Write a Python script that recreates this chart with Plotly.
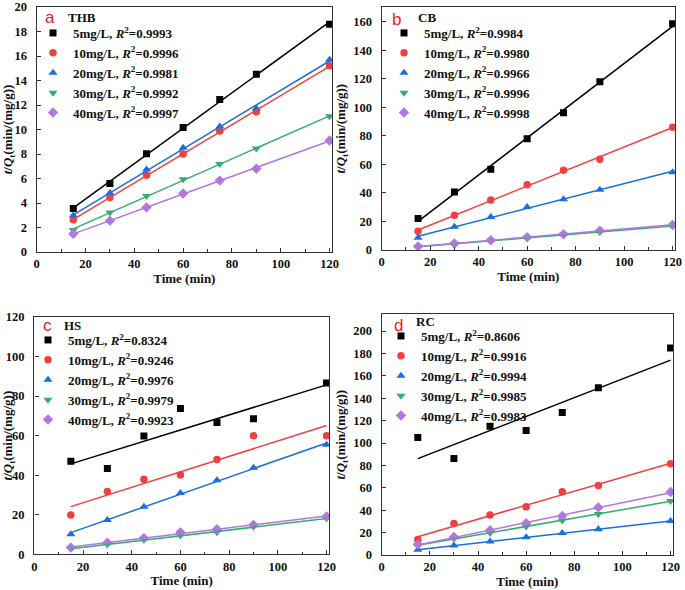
import numpy as np
import plotly.graph_objects as go

time = [15, 30, 45, 60, 75, 90, 120]
conc_labels = ["5mg/L", "10mg/L", "20mg/L", "30mg/L", "40mg/L"]

thb_5 = [3.55, 5.6, 8.02, 10.16, 12.45, 14.52, 18.6]
thb_10 = [2.64, 4.45, 6.27, 7.99, 9.88, 11.44, 15.2]
thb_20 = [2.98, 4.82, 6.73, 8.52, 10.25, 11.72, 15.7]
thb_30 = [1.8, 3.22, 4.57, 5.94, 7.18, 8.44, 11.08]
thb_40 = [1.48, 2.56, 3.64, 4.78, 5.83, 6.8, 9.1]
thb_r2 = ["0.9993", "0.9996", "0.9981", "0.9992", "0.9997"]

cb_5 = [22.1, 40.6, 56.6, 78.0, 96.1, 117.8, 158.4]
cb_10 = [13.1, 24.4, 35.0, 45.7, 55.9, 63.6, 86.0]
cb_20 = [8.5, 16.2, 23.2, 30.2, 35.5, 42.2, 54.5]
cb_30 = [2.2, 4.3, 6.5, 8.5, 10.6, 12.7, 16.7]
cb_40 = [2.4, 4.6, 6.8, 8.9, 11.0, 13.5, 17.6]
cb_r2 = ["0.9984", "0.9980", "0.9966", "0.9996", "0.9998"]

hs_5 = [47.0, 43.4, 59.8, 73.7, 66.6, 68.6, 86.6]
hs_10 = [19.9, 31.8, 37.9, 40.1, 48.0, 60.0, 60.0]
hs_20 = [10.2, 17.4, 24.1, 31.0, 37.4, 43.8, 55.4]
hs_30 = [2.9, 4.9, 7.2, 9.5, 11.2, 13.9, 18.1]
hs_40 = [3.4, 5.9, 8.2, 11.1, 12.7, 14.9, 19.1]
hs_r2 = ["0.8324", "0.9246", "0.9976", "0.9979", "0.9923"]

rc_5 = [105.0, 86.3, 114.9, 111.1, 127.3, 149.5, 185.0]
rc_10 = [13.9, 28.2, 35.7, 43.0, 56.4, 62.0, 81.6]
rc_20 = [4.8, 8.4, 12.0, 15.8, 19.7, 22.9, 30.3]
rc_30 = [8.7, 14.6, 19.6, 25.4, 30.9, 36.6, 48.3]
rc_40 = [9.3, 16.1, 22.2, 28.3, 34.8, 42.5, 56.3]
rc_r2 = ["0.8606", "0.9916", "0.9994", "0.9985", "0.9983"]

panels = [
    ("a", "THB", [thb_5, thb_10, thb_20, thb_30, thb_40], thb_r2, 20, 2),
    ("b", "CB", [cb_5, cb_10, cb_20, cb_30, cb_40], cb_r2, 170, 20),
    ("c", "HS", [hs_5, hs_10, hs_20, hs_30, hs_40], hs_r2, 120, 20),
    ("d", "RC", [rc_5, rc_10, rc_20, rc_30, rc_40], rc_r2, 215, 20),
]

colors = ["#000000", "#F14040", "#1A6FDF", "#37AD6B", "#B177DE"]
symbols = ["square", "circle", "triangle-up", "triangle-down", "diamond"]
sizes = [7, 7.5, 8, 8, 8]

W, H = 685, 590
# plot-area pixel boxes (left, right, top, bottom)
boxes = [
    (36.7, 332, 7, 252),
    (381.7, 675, 7.3, 250),
    (34.3, 329, 317, 554.3),
    (381.7, 673, 314.3, 555),
]
legend_pos = [(33, 18), (384, 18), (28, 325), (381, 321)]
letter_pos = [(50, 18), (396, 19), (47, 326), (398, 325)]
name_pos = [(82, 18), (427, 18), (72, 326), (425, 322)]

fig = go.Figure()
serif = "Liberation Serif"
axis_color = "#333333"

for i, (letter, name, series, r2, ymax, ydt) in enumerate(panels):
    sfx = "" if i == 0 else str(i + 1)
    xa, ya = "x" + sfx, "y" + sfx
    leg = "legend" + sfx
    t = np.array(time, dtype=float)
    for j, ys in enumerate(series):
        fig.add_trace(go.Scatter(
            x=time, y=ys, mode="markers", xaxis=xa, yaxis=ya, legend=leg,
            name=f"<b>{conc_labels[j]}, <i>R</i><sup>2</sup>={r2[j]}</b>",
            marker=dict(symbol=symbols[j], color=colors[j], size=sizes[j], line=dict(width=0)),
        ))
    for j, ys in enumerate(series):
        k, b = np.polyfit(t, np.array(ys), 1)
        xs = [time[0], time[-1]]
        fig.add_trace(go.Scatter(
            x=xs, y=[k * x + b for x in xs], mode="lines", xaxis=xa, yaxis=ya,
            showlegend=False, line=dict(color=colors[j], width=1.5), hoverinfo="skip",
        ))
    l, r, tp, bt = boxes[i]
    common = dict(
        showline=True, linecolor=axis_color, linewidth=1.4, mirror=True,
        ticks="inside", ticklen=4, tickwidth=1.2, tickcolor=axis_color,
        showgrid=False, zeroline=False, automargin=False,
        tickfont=dict(family=serif, size=12.5, color="#111111", weight="bold"),
        title_font=dict(family=serif, size=13, color="#111111", weight="bold"),
    )
    fig.layout["xaxis" + sfx] = dict(
        common, domain=[l / W, r / W], anchor=ya, range=[0, 121], dtick=20, tick0=0,
        minor=dict(dtick=10, ticks="inside", ticklen=2.5, tickcolor=axis_color, showgrid=False),
        title=dict(text="Time (min)", standoff=1),
    )
    fig.layout["yaxis" + sfx] = dict(
        common, domain=[1 - bt / H, 1 - tp / H], anchor=xa, range=[0, ymax], dtick=ydt, tick0=0,
        ticklabelstandoff=6,
        title=dict(text="<i>t</i>/<i>Q</i><sub>t</sub>(min/(mg/g))", standoff=4),
    )
    lx, ly = legend_pos[i]
    fig.layout[leg] = dict(
        x=lx / W, y=1 - ly / H, xanchor="left", yanchor="top", bgcolor="rgba(0,0,0,0)",
        font=dict(family=serif, size=13, color="#111111"), tracegroupgap=0,
    )
    px, py = letter_pos[i]
    fig.add_annotation(x=px / W, y=1 - py / H, xref="paper", yref="paper", text=letter,
                       xanchor="center", yanchor="middle",
                       showarrow=False, font=dict(family="Liberation Sans", size=17, color="#EE1C25"))
    nx, ny = name_pos[i]
    fig.add_annotation(x=nx / W, y=1 - ny / H, xref="paper", yref="paper", text=f"<b>{name}</b>",
                       xanchor="center", yanchor="middle",
                       showarrow=False, font=dict(family=serif, size=13, color="#111111"))

fig.update_layout(
    width=W, height=H, margin=dict(l=0, r=0, t=0, b=0, autoexpand=False),
    paper_bgcolor="white", plot_bgcolor="white", showlegend=True,
)
fig.write_html(
    "out.html",
    config={"displayModeBar": False},
    post_script="document.body.style.margin='0px';document.body.style.overflow='hidden';",
)
